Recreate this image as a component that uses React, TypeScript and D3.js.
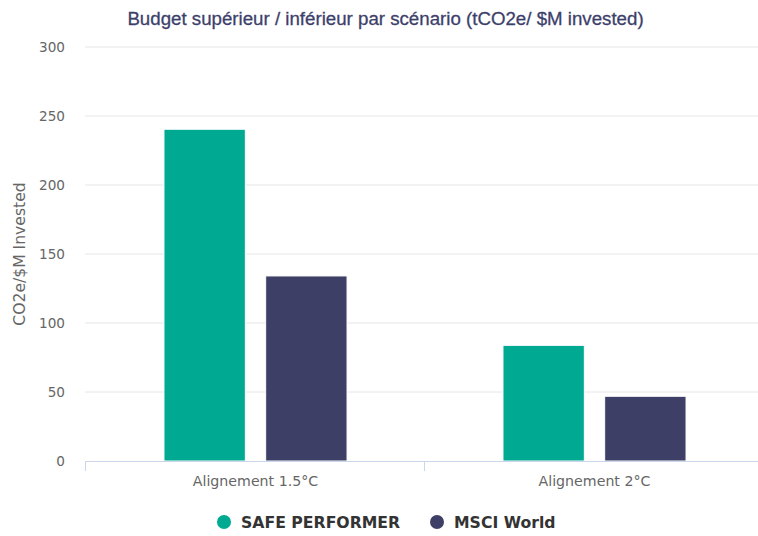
import React from "react";
import * as d3 from "d3";

const categories = ["Alignement 1.5°C", "Alignement 2°C"];
const seriesNames = ["SAFE PERFORMER", "MSCI World"];
const seriesColors = ["#00a991", "#3d3f66"];
const safePerformer = [240.4, 83.8];
const msciWorld = [134.1, 46.9];
const yTicks = [0, 50, 100, 150, 200, 250, 300];

const W = 758;
const H = 536;
const left = 86;
const right = 764;
const top = 47;
const bottom = 461;

export default function App() {
  const series = [safePerformer, msciWorld];
  const x = d3.scaleBand<string>().domain(categories).range([left, right]).padding(0);
  const inner = d3
    .scaleBand<number>()
    .domain(d3.range(series.length))
    .range([x.bandwidth() * 0.2, x.bandwidth() * 0.8])
    .paddingInner(0.2)
    .paddingOuter(0.1);
  const y = d3.scaleLinear().domain([0, 300]).range([bottom, top]);
  const font = "'DejaVu Sans', sans-serif";

  return (
    <svg
      width={W}
      height={H}
      style={{ position: "absolute", left: 0, top: 0, background: "#fff" }}
    >
      <text
        x={385.5}
        y={25}
        textAnchor="middle"
        fontFamily="'Liberation Sans', Arial, sans-serif"
        fontSize={18.7}
        fill="#3d3f6b"
        stroke="#3d3f6b"
        strokeWidth={0.3}
      >
        Budget supérieur / inférieur par scénario (tCO2e/ $M invested)
      </text>
      {yTicks.map((t) => (
        <g key={t}>
          {t !== 0 && (
            <line x1={left - 1} x2={right} y1={y(t)} y2={y(t)} stroke="#e6e6e6" strokeWidth={1} />
          )}
          <text
            x={65}
            y={y(t) + 5}
            textAnchor="end"
            fontFamily={font}
            fontSize={13.6}
            fill="#666"
          >
            {t}
          </text>
        </g>
      ))}
      <text
        transform={`translate(25, ${(top + bottom) / 2}) rotate(-90)`}
        textAnchor="middle"
        fontFamily={font}
        fontSize={15.6}
        fill="#666"
      >
        CO2e/$M Invested
      </text>
      {categories.map((c, ci) =>
        series.map((s, si) => (
          <rect
            key={`${ci}-${si}`}
            x={(x(c) as number) + (inner(si) as number)}
            y={y(s[ci])}
            width={inner.bandwidth()}
            height={bottom - y(s[ci])}
            fill={seriesColors[si]}
            stroke="#ffffff"
            strokeWidth={1}
          />
        ))
      )}
      <line x1={left - 1} x2={right} y1={bottom + 0.5} y2={bottom + 0.5} stroke="#ccd6eb" strokeWidth={1} />
      {[...categories.map((c) => x(c) as number), right].map((v, i) => (
        <line key={i} x1={v - 0.5} x2={v - 0.5} y1={bottom} y2={bottom + 10} stroke="#ccd6eb" strokeWidth={1} />
      ))}
      {categories.map((c) => (
        <text
          key={c}
          x={(x(c) as number) + x.bandwidth() / 2}
          y={485.5}
          textAnchor="middle"
          fontFamily={font}
          fontSize={14.2}
          fill="#666"
        >
          {c}
        </text>
      ))}
      {seriesNames.map((n, i) => {
        const cx = i === 0 ? 224 : 437;
        return (
          <g key={n}>
            <circle cx={cx} cy={522} r={7} fill={seriesColors[i]} />
            <text
              x={cx + 17}
              y={527.5}
              fontFamily={font}
              fontSize={15.7}
              fontWeight="bold"
              fill="#333"
            >
              {n}
            </text>
          </g>
        );
      })}
    </svg>
  );
}
